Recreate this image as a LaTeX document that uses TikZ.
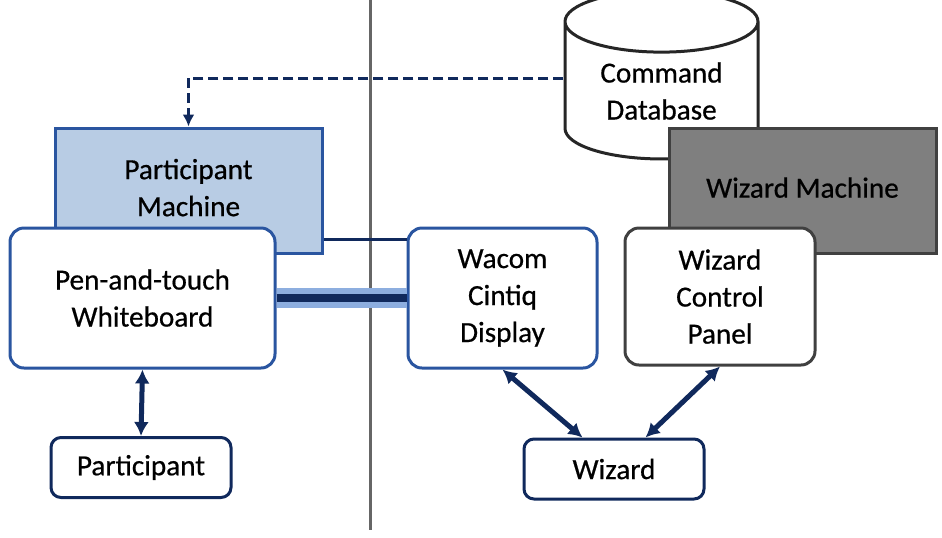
\documentclass[tikz,border=0pt]{standalone}
\usepackage{fontspec}
\setmainfont{Carlito}[UprightFeatures={FakeBold=0.6}]
\usetikzlibrary{shapes, calc, arrows.meta}

\definecolor{boxblue}{HTML}{2A55A0}
\definecolor{navy}{HTML}{10295C}
\definecolor{paleblue}{HTML}{B8CCE4}
\definecolor{glowblue}{HTML}{8DAEDF}
\definecolor{darkgrey}{HTML}{404040}
\definecolor{midgrey}{HTML}{7F7F7F}

\begin{document}
\begin{tikzpicture}[x=0.5pt, y=-0.5pt,
	every node/.style={font=\fontsize{14.6}{18.5}\selectfont, align=center, inner sep=0pt},
	machine/.style={draw, rectangle, line width=1.5pt,
		minimum width=133.5pt, minimum height=62.5pt},
	device/.style={draw, rectangle, rounded corners=7pt, line width=1.5pt,
		fill=white, minimum height=70pt},
	person/.style={draw=navy, rectangle, rounded corners=5pt, line width=1.5pt,
		fill=white, minimum width=90pt, minimum height=30pt},
	link/.style={<->, >={Latex[length=7pt, width=7.5pt]}, line width=2.5pt, navy},
	cable/.style={line width=1.5pt, navy}
]
	\useasboundingbox (0,0) rectangle (942,537);

	% divider between the two rooms
	\draw[line width=1.5pt, darkgrey!80] (370,0) -- (370,530);

	% participant side
	\node[machine, draw=boxblue, fill=paleblue, text depth=3pt] (pm) at (188.5,190.5)
		{Participant\\Machine};
	\node[device, draw=boxblue, minimum width=132.5pt] (wb) at (142.5,298)
		{Pen-and-touch\\Whiteboard};
	\node[person] (participant) at (141,467.5) {Participant};

	% wizard side
	\node[cylinder, shape border rotate=90, aspect=0.5, draw=black!85, line width=1.5pt,
		fill=white, minimum width=96.5pt, minimum height=84pt] (db) at (661.5,91)
		{Command\\Database};
	\node[machine, draw=darkgrey, fill=midgrey, text depth=3pt] (wm) at (802.5,190.5)
		{Wizard Machine};
	\node[device, draw=boxblue, minimum width=94.5pt] (wacom) at (502.5,298)
		{Wacom\\Cintiq\\Display};
	\node[device, draw=darkgrey, minimum width=95pt, minimum height=68.5pt] (wcp) at (720,296.5)
		{Wizard\\Control\\Panel};
	\node[person] (wizard) at (614,469) {Wizard};

	% connections
	\draw[cable] ([yshift=7.5pt]pm.south east) -- ([yshift=7.5pt]pm.south east -| wacom.west);
	\draw[line width=4pt, navy, preaction={draw, line width=10pt, glowblue}]
		(wb.east) -- (wacom.west);
	\draw[link] (wb.south) -- (participant.north);
	\draw[link] (wacom.south) -- (wizard.135);
	\draw[link] (wcp.south) -- (wizard.45);
	\draw[cable, dash pattern=on 5pt off 2.5pt, -{Latex[length=6pt, width=6pt]}]
		([yshift=6.5pt]db.west) -| (pm.north);
\end{tikzpicture}
\end{document}
